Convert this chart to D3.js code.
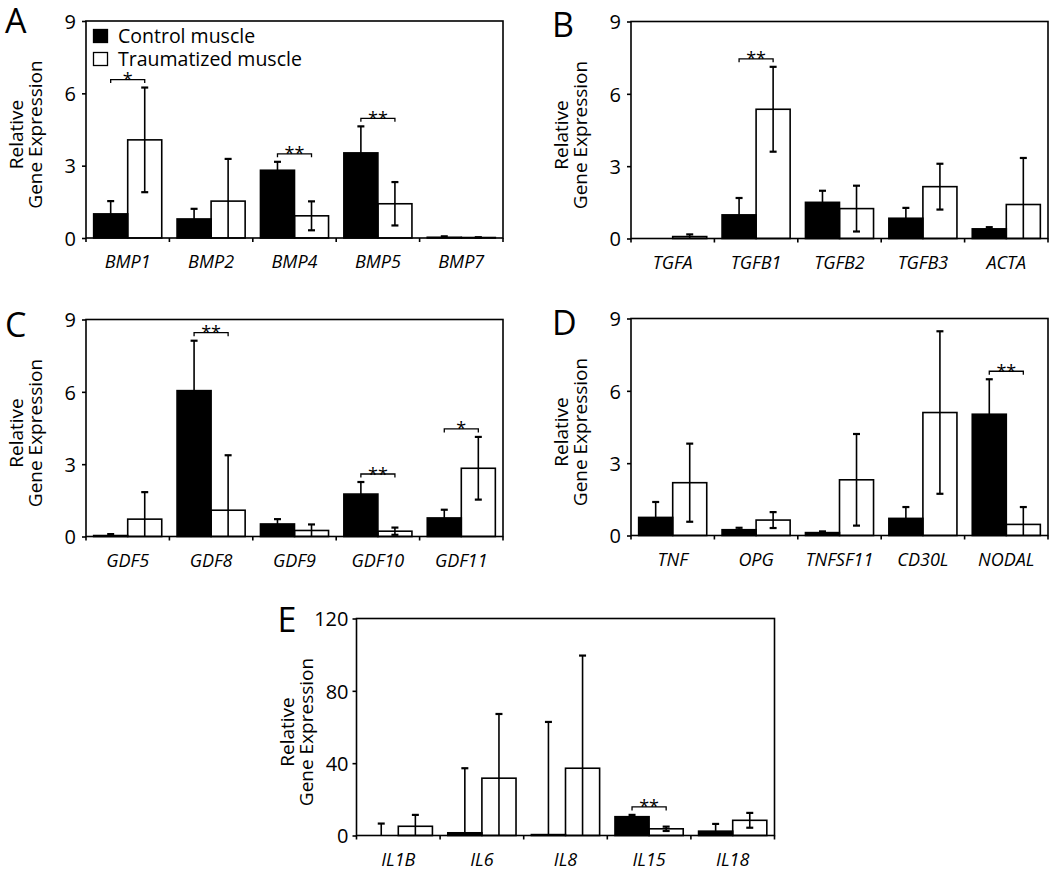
<!DOCTYPE html>
<html><head><meta charset="utf-8">
<script src="https://cdn.jsdelivr.net/npm/d3@7"></script>
<style>
html,body{margin:0;padding:0;background:#fff;}
svg{display:block;font-family:"Open Sans","Noto Sans",sans-serif;}
</style></head>
<body>
<svg id="chart" width="1050" height="870"></svg>
<script>
// ---------- data ----------
const seriesNames = ["Control muscle", "Traumatized muscle"];

const genesA = ["BMP1","BMP2","BMP4","BMP5","BMP7"];
const controlA = [1.0, 0.79, 2.81, 3.53, 0.03];
const controlErrA = [0.53, 0.42, 0.35, 1.1, 0.04];
const traumaA = [4.07, 1.53, 0.92, 1.42, 0.02];
const traumaErrA = [2.17, 1.75, 0.6, 0.9, 0.01];
const sigA = ["*", "", "**", "**", ""];

const genesB = ["TGFA","TGFB1","TGFB2","TGFB3","ACTA"];
const controlB = [0, 0.98, 1.5, 0.84, 0.4];
const controlErrB = [0, 0.7, 0.48, 0.43, 0.07];
const traumaB = [0.08, 5.36, 1.24, 2.15, 1.41];
const traumaErrB = [0.09, 1.76, 0.95, 0.95, 1.93];
const sigB = ["", "**", "", "", ""];

const genesC = ["GDF5","GDF8","GDF9","GDF10","GDF11"];
const controlC = [0.04, 6.05, 0.52, 1.76, 0.77];
const controlErrC = [0.06, 2.07, 0.2, 0.5, 0.34];
const traumaC = [0.72, 1.09, 0.25, 0.22, 2.83];
const traumaErrC = [1.12, 2.28, 0.25, 0.15, 1.3];
const sigC = ["", "**", "", "**", "*"];

const genesD = ["TNF","OPG","TNFSF11","CD30L","NODAL"];
const controlD = [0.75, 0.24, 0.12, 0.71, 5.03];
const controlErrD = [0.64, 0.08, 0.05, 0.47, 1.45];
const traumaD = [2.19, 0.64, 2.31, 5.1, 0.46];
const traumaErrD = [1.62, 0.33, 1.9, 3.37, 0.72];
const sigD = ["", "", "", "", "**"];

const genesE = ["IL1B","IL6","IL8","IL15","IL18"];
const controlE = [0, 1.5, 0.5, 10.4, 2.4];
const controlErrE = [6.6, 35.7, 62.3, 1.0, 4.0];
const traumaE = [5.1, 31.7, 37.2, 3.7, 8.4];
const traumaErrE = [6.3, 35.5, 62.3, 1.2, 4.1];
const sigE = ["", "", "", "**", ""];

const ticks9 = [0, 3, 6, 9];
const ticks120 = [0, 40, 80, 120];

// ---------- drawing ----------
const svg = d3.select("#chart");
const W = 417, H = 217;
const SW = 1.6;

function panel(opt) {
  const g = svg.append("g").attr("transform", `translate(${opt.left},${opt.top})`);
  const w = opt.width || W;
  const yMax = opt.ticks[opt.ticks.length - 1];
  const x0 = d3.scaleBand().domain(opt.genes).range([0, w]).paddingInner(0).paddingOuter(0);
  const x1 = d3.scaleBand().domain(["c", "t"]).range([0, x0.bandwidth()]).paddingInner(0).paddingOuter(0.225);
  const y = d3.scaleLinear().domain([0, yMax]).range([H, 0]);

  // panel letter
  svg.append("text").attr("x", opt.left + opt.letterDx).attr("y", opt.top + opt.letterDy)
    .attr("font-size", 34).attr("fill", "#000").text(opt.letter);

  // y title
  const yt = g.append("text").attr("transform", `translate(-63,${H / 2 + 5}) rotate(-90)`)
    .attr("text-anchor", "middle").attr("font-size", 19).attr("fill", "#000");
  yt.append("tspan").attr("x", 0).attr("dy", 0).text("Relative");
  yt.append("tspan").attr("x", 0).attr("dy", 19).text("Gene Expression");

  // bars
  const data = opt.genes.map((gname, i) => ({
    gene: gname, c: opt.control[i], ce: opt.controlErr[i], t: opt.trauma[i], te: opt.traumaErr[i], sig: opt.sig[i]
  }));
  const grp = g.selectAll("g.grp").data(data).join("g").attr("class", "grp")
    .attr("transform", d => `translate(${x0(d.gene)},0)`);
  const bw = x1.bandwidth();

  // white bars
  grp.append("rect").attr("x", x1("t")).attr("y", d => y(d.t)).attr("width", bw)
    .attr("height", d => H - y(d.t)).attr("fill", "#fff").attr("stroke", "#000").attr("stroke-width", SW);
  // black bars
  grp.append("rect").attr("x", x1("c")).attr("y", d => y(d.c)).attr("width", bw)
    .attr("height", d => H - y(d.c)).attr("fill", "#000").attr("stroke", "#000").attr("stroke-width", SW);

  const cap = 3.5;
  // control error bars (upper)
  grp.filter(d => d.ce > 0).each(function (d) {
    const s = d3.select(this), cx = x1("c") + bw / 2;
    s.append("line").attr("x1", cx).attr("x2", cx).attr("y1", y(d.c)).attr("y2", y(d.c + d.ce))
      .attr("stroke", "#000").attr("stroke-width", SW);
    s.append("line").attr("x1", cx - cap).attr("x2", cx + cap).attr("y1", y(d.c + d.ce)).attr("y2", y(d.c + d.ce))
      .attr("stroke", "#000").attr("stroke-width", 2.2);
  });
  // trauma error bars (both)
  grp.filter(d => d.te > 0).each(function (d) {
    const s = d3.select(this), cx = x1("t") + bw / 2;
    const lo = Math.max(0, d.t - d.te), hi = d.t + d.te;
    s.append("line").attr("x1", cx).attr("x2", cx).attr("y1", y(lo)).attr("y2", y(hi))
      .attr("stroke", "#000").attr("stroke-width", SW);
    s.append("line").attr("x1", cx - cap).attr("x2", cx + cap).attr("y1", y(hi)).attr("y2", y(hi))
      .attr("stroke", "#000").attr("stroke-width", 2.2);
    if (d.t - d.te > 0) {
      s.append("line").attr("x1", cx - cap).attr("x2", cx + cap).attr("y1", y(lo)).attr("y2", y(lo))
        .attr("stroke", "#000").attr("stroke-width", 2.2);
    }
  });
  // significance brackets
  grp.filter(d => d.sig).each(function (d) {
    const s = d3.select(this);
    const xa = x1("c") + bw / 2, xb = x1("t") + bw / 2;
    const by = Math.min(y(d.c + d.ce), y(d.t + d.te)) - 8;
    s.append("path").attr("d", `M${xa},${by + 3.5}V${by}H${xb}V${by + 3.5}`)
      .attr("fill", "none").attr("stroke", "#000").attr("stroke-width", 1.3);
    s.append("text").attr("x", (xa + xb) / 2).attr("y", by + 6.5).attr("text-anchor", "middle")
      .attr("font-size", 18).attr("fill", "#000").text(d.sig);
  });

  // frame
  g.append("rect").attr("x", 0).attr("y", 0).attr("width", w).attr("height", H)
    .attr("fill", "none").attr("stroke", "#000").attr("stroke-width", SW);

  // y axis
  const yAxis = g.append("g").call(d3.axisLeft(y).tickValues(opt.ticks).tickSize(4).tickPadding(opt.tickPad || 6));
  yAxis.select(".domain").remove();
  yAxis.selectAll("line").attr("stroke", "#000").attr("stroke-width", SW);
  yAxis.selectAll("text").attr("font-size", 20).attr("font-family", "'Open Sans','Noto Sans',sans-serif")
    .attr("fill", "#000").attr("dy", "0.36em");

  // x axis: ticks at group boundaries, labels centered
  const bounds = d3.range(opt.genes.length + 1).map(i => i * x0.step());
  g.selectAll("line.xt").data(bounds).join("line").attr("class", "xt")
    .attr("x1", d => d).attr("x2", d => d).attr("y1", H).attr("y2", H + 4)
    .attr("stroke", "#000").attr("stroke-width", SW);
  g.selectAll("text.xl").data(opt.genes).join("text").attr("class", "xl")
    .attr("x", d => x0(d) + x0.bandwidth() / 2).attr("y", H + 30)
    .attr("text-anchor", "middle").attr("font-style", "italic").attr("font-size", 18).attr("fill", "#000")
    .text(d => d);

  return g;
}

const gA = panel({ left: 86, top: 21, letter: "A", letterDx: -81, letterDy: 12,
  genes: genesA, control: controlA, controlErr: controlErrA, trauma: traumaA, traumaErr: traumaErrA, sig: sigA, ticks: ticks9 });
panel({ left: 631, top: 21.5, letter: "B", letterDx: -79, letterDy: 15,
  genes: genesB, control: controlB, controlErr: controlErrB, trauma: traumaB, traumaErr: traumaErrB, sig: sigB, ticks: ticks9 });
panel({ left: 86, top: 319.5, letter: "C", letterDx: -81, letterDy: 17,
  genes: genesC, control: controlC, controlErr: controlErrC, trauma: traumaC, traumaErr: traumaErrC, sig: sigC, ticks: ticks9 });
panel({ left: 631, top: 318.5, letter: "D", letterDx: -79, letterDy: 16,
  genes: genesD, control: controlD, controlErr: controlErrD, trauma: traumaD, traumaErr: traumaErrD, sig: sigD, ticks: ticks9 });
panel({ left: 356.5, top: 618.5, width: 418, letter: "E", letterDx: -79, letterDy: 13, tickPad: 4,
  genes: genesE, control: controlE, controlErr: controlErrE, trauma: traumaE, traumaErr: traumaErrE, sig: sigE, ticks: ticks120 });

// legend (panel A)
const lg = gA.append("g").attr("transform", "translate(7,8)");
seriesNames.forEach((name, i) => {
  lg.append("rect").attr("x", 0.5).attr("y", i * 23 + 0.5).attr("width", 14).attr("height", 13)
    .attr("fill", i === 0 ? "#000" : "#fff").attr("stroke", "#000").attr("stroke-width", 1.3);
  lg.append("text").attr("x", 25).attr("y", i * 23 + 14).attr("font-size", 19.5).attr("fill", "#000").text(name);
});
</script>
</body></html>
